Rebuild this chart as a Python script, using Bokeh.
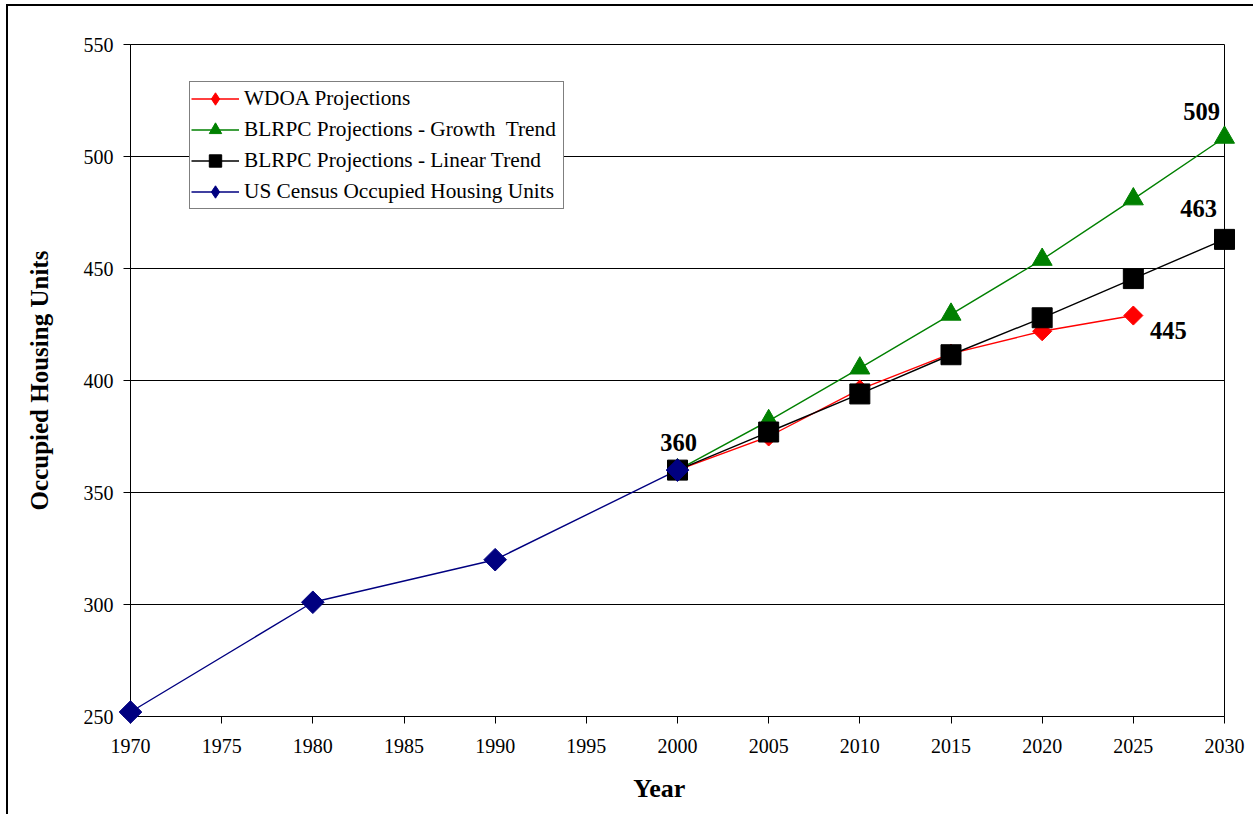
from bokeh.plotting import figure
from bokeh.models import FixedTicker, Legend, LegendItem, ColumnDataSource
from bokeh.embed import file_html
from bokeh.resources import INLINE
from bokeh.core.properties import value

# ---- data ----
years_census = [1970, 1980, 1990, 2000]
census = [252, 301, 320, 360]

years_proj = [2000, 2005, 2010, 2015, 2020, 2025, 2030]
wdoa_years = [2000, 2005, 2010, 2015, 2020, 2025]
wdoa = [360, 375, 396, 412, 422, 429]
growth = [360, 382, 405.5, 429.5, 454, 481, 508.5]
linear = [360, 377, 394, 411.5, 428, 445.5, 463]

label_x = [2000, 2030, 2030, 2025]
label_y = [360, 508.5, 463, 429]
label_text = ["360", "509", "463", "445"]

series_names = ["WDOA Projections", "BLRPC Projections - Growth  Trend",
                "BLRPC Projections - Linear Trend", "US Census Occupied Housing Units"]

x_ticks = [1970, 1975, 1980, 1985, 1990, 1995, 2000, 2005, 2010, 2015, 2020, 2025, 2030]
y_ticks = [250, 300, 350, 400, 450, 500, 550]

x_title = "Year"
y_title = "Occupied Housing Units"

FONT = "Liberation Serif"
NAN = float("nan")

p = figure(width=1247, height=810, x_range=(1970, 2030), y_range=(250, 550),
           output_backend="svg", toolbar_location=None,
           min_border_left=122, min_border_top=38, min_border_right=31, min_border_bottom=100)
p.styles = {"border-left": "2px solid black", "border-top": "2px solid black",
            "margin-left": "6px", "margin-top": "4px"}

p.background_fill_color = "white"
p.border_fill_color = "white"
p.outline_line_color = "black"
p.outline_line_width = 1

p.xgrid.visible = False
p.ygrid.grid_line_color = "black"
p.ygrid.grid_line_width = 1

for ax in (p.xaxis[0], p.yaxis[0]):
    ax.axis_line_color = "black"
    ax.major_tick_line_color = "black"
    ax.minor_tick_line_color = None
    ax.major_tick_out = 7
    ax.major_tick_in = 0
    ax.major_label_text_font = FONT
    ax.major_label_text_font_size = "20px"
    ax.major_label_text_color = "black"
    ax.axis_label_text_font = FONT
    ax.axis_label_text_font_style = "bold"
    ax.axis_label_text_color = "black"
    ax.axis_label_text_font_size = "25px"

p.xaxis.ticker = FixedTicker(ticks=x_ticks)
p.yaxis.ticker = FixedTicker(ticks=y_ticks)
p.yaxis.axis_label = y_title
p.xaxis.major_label_standoff = 15
p.yaxis.major_label_standoff = 10
p.yaxis.axis_label_standoff = 28

RED, GREEN, BLACK, NAVY = "#FF0000", "#008000", "#000000", "#000080"
LW = 1.4

l1 = p.line(wdoa_years, wdoa, line_color=RED, line_width=LW)
l2 = p.line(years_proj, growth, line_color=GREEN, line_width=LW)
l3 = p.line(years_proj, linear, line_color=BLACK, line_width=LW)
l4 = p.line(years_census, census, line_color=NAVY, line_width=LW)

m1 = p.scatter(wdoa_years, wdoa, marker="square", angle=0.7854, size=13.5,
               fill_color=RED, line_color=RED, level="overlay")
m2 = p.scatter(years_proj, growth, marker="triangle", size=20,
               fill_color=GREEN, line_color=GREEN, level="overlay")
m3 = p.scatter(years_proj, linear, marker="square", size=20,
               fill_color=BLACK, line_color=BLACK, level="overlay")
m4 = p.scatter(years_census, census, marker="square", angle=0.7854, size=16,
               fill_color=NAVY, line_color=NAVY, level="overlay")

# legend-only diamond markers (no visible data)
e1 = p.scatter([NAN], [NAN], marker="diamond", size=14, fill_color=RED, line_color=RED)
e4 = p.scatter([NAN], [NAN], marker="diamond", size=14, fill_color=NAVY, line_color=NAVY)

src = ColumnDataSource(dict(x=label_x, y=label_y, t=label_text,
                            xo=[1, -23, -26, 35], yo=[-28, -26, -31, 15]))
p.text(x="x", y="y", text="t", x_offset="xo", y_offset="yo", source=src,
       text_font=value(FONT), text_font_style="bold", text_font_size="24.5px",
       text_align="center", text_baseline="alphabetic", text_color="black",
       level="overlay")

# x axis title, anchored on the bottom axis and drawn below it
p.text(x=[1999], y=[250], text=[x_title], y_offset=72,
       text_font=value(FONT), text_font_style="bold", text_font_size="26px",
       text_align="center", text_baseline="alphabetic", text_color="black",
       level="overlay")

legend = Legend(items=[
    LegendItem(label=series_names[0], renderers=[l1, e1]),
    LegendItem(label=series_names[1], renderers=[l2, m2]),
    LegendItem(label=series_names[2], renderers=[l3, m3]),
    LegendItem(label=series_names[3], renderers=[l4, e4]),
], location=(59, 507))
legend.label_text_font = FONT
legend.label_text_font_size = "21.3px"
legend.label_text_color = "black"
legend.label_height = 24
legend.label_width = 318
legend.glyph_height = 31
legend.glyph_width = 48
legend.label_standoff = 5
legend.spacing = 0
legend.padding = 1
legend.margin = 0
legend.border_line_color = "black"
legend.border_line_width = 1
legend.background_fill_alpha = 1
p.add_layout(legend, "center")

open("out.html", "w").write(file_html(p, INLINE))
